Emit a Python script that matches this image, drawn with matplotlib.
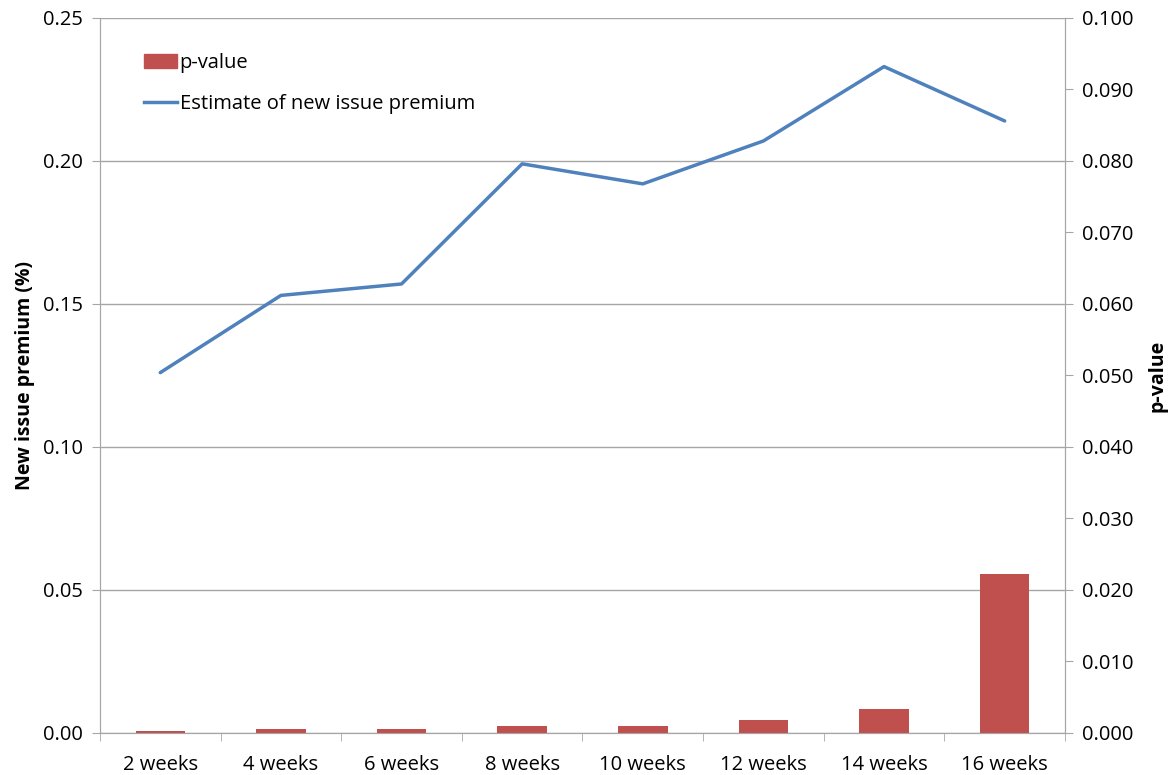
import matplotlib.pyplot as plt
import numpy as np
from matplotlib.patches import Patch
from matplotlib.lines import Line2D

plt.rcParams['font.family'] = ['Open Sans', 'DejaVu Sans']

weeks = ['2 weeks', '4 weeks', '6 weeks', '8 weeks', '10 weeks', '12 weeks', '14 weeks', '16 weeks']
premium = [0.126, 0.153, 0.157, 0.199, 0.192, 0.207, 0.233, 0.214]
pvalue = [0.0003, 0.0006, 0.0006, 0.0010, 0.0010, 0.0018, 0.0033, 0.0222]

grey = '#a6a6a6'
x = np.arange(len(weeks))

fig = plt.figure(figsize=(11.76, 7.75), dpi=100)
ax = fig.add_axes([0.085, 0.0542, 0.8206, 0.9226])
ax2 = ax.twinx()

# line on left axis
ax.plot(x, premium, color='#4f81bd', lw=2.5, solid_capstyle='round')
ax.set_ylim(0, 0.25)
ax.set_yticks(np.arange(0, 0.251, 0.05))
ax.set_yticklabels(['%.2f' % v for v in np.arange(0, 0.251, 0.05)])
ax.yaxis.grid(True, color=grey, lw=1)
ax.set_axisbelow(True)
ax.set_xlim(-0.5, len(weeks) - 0.5)
ax.set_ylabel('New issue premium (%)', fontweight='bold', fontsize=14, labelpad=6)

# bars on right axis
ax2.bar(x, pvalue, width=0.41, color='#c0504d')
ax2.set_ylim(0, 0.1)
ax2.set_yticks(np.arange(0, 0.1001, 0.01))
ax2.set_yticklabels(['%.3f' % v for v in np.arange(0, 0.1001, 0.01)])
ax2.set_ylabel('p-value', fontweight='bold', fontsize=14, labelpad=10)

ax.set_xticks(x)
ax.set_xticklabels(weeks)
ax.set_xticks(np.arange(-0.5, len(weeks)), minor=True)
ax.tick_params(axis='x', which='major', length=0, pad=16)
ax.tick_params(axis='x', which='minor', length=6, color=grey)

for a in (ax, ax2):
    a.tick_params(axis='y', length=6, color=grey, labelsize=14.5)
    a.tick_params(axis='x', labelsize=14.5)
    a.spines['top'].set_visible(False)
    for s in ('left', 'right', 'bottom'):
        a.spines[s].set_color(grey)
ax.tick_params(axis='y', pad=6)
ax2.tick_params(axis='y', pad=6)

handles = [Patch(color='#c0504d'), Line2D([], [], color='#4f81bd', lw=2.5)]
ax2.legend(handles, ['p-value', 'Estimate of new issue premium'], loc='upper left',
           bbox_to_anchor=(0.046, 0.951), frameon=False, fontsize=14.5,
           borderpad=0, borderaxespad=0,
           handlelength=1.6, handleheight=0.65, handletextpad=0.15, labelspacing=1.05)

fig.savefig('out.png', dpi=100)
